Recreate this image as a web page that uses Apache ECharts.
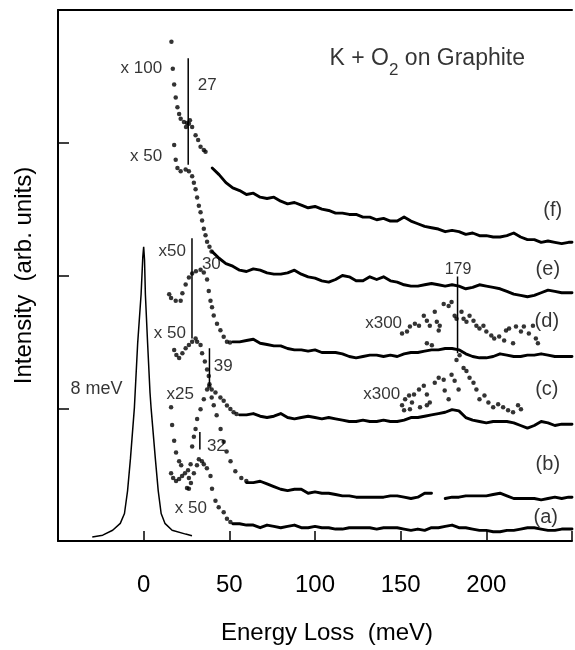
<!DOCTYPE html>
<html><head><meta charset="utf-8">
<script src="https://cdn.jsdelivr.net/npm/echarts@6/dist/echarts.min.js"></script>
<style>html,body{margin:0;padding:0;background:#fff}#c{width:575px;height:650px}</style>
</head><body><div id="c"></div>
<script>
const FONT = 'Liberation Sans, Arial, Helvetica, sans-serif';
const energyTicks = [0, 50, 100, 150, 200];
const energyGrid = [36,40,44,48,52,56,60,64,68,72,76,80,84,88,92,96,100,104,108,112,116,120,124,128,132,136,140,144,148,152,156,160,164,168,172,176,180,184,188,192,196,200,204,208,212,216,220,224,228,232,236,240,244,248,250];

const lineF = [null,2.81,2.76,2.70,2.66,2.64,2.61,2.62,2.59,2.58,2.59,2.56,2.54,2.55,2.53,2.51,2.52,2.50,2.49,2.47,2.47,2.46,2.46,2.44,2.44,2.42,2.43,2.41,2.41,2.44,2.41,2.39,2.37,2.36,2.35,2.33,2.34,2.33,2.31,2.32,2.30,2.30,2.29,2.29,2.30,2.32,2.29,2.27,2.27,2.25,2.26,2.25,2.24,2.25,2.25];
const lineE = [null,2.18,2.13,2.09,2.07,2.04,2.03,2.05,2.04,2.02,2.01,2.01,2.02,2.04,2.01,1.99,1.98,1.96,1.95,1.97,2.00,1.99,1.96,1.96,1.99,1.97,1.99,1.96,1.95,1.93,1.92,1.92,1.93,1.94,1.93,1.92,1.93,1.92,1.90,1.91,1.93,1.92,1.91,1.90,1.88,1.86,1.85,1.84,1.85,1.87,1.89,1.88,1.87,1.87,1.87];
const lineD = [null,null,null,null,1.50,1.50,1.51,1.52,1.49,1.48,1.47,1.47,1.45,1.44,1.44,1.43,1.44,1.42,1.42,1.42,1.41,1.39,1.38,1.39,1.40,1.40,1.39,1.40,1.39,1.41,1.42,1.42,1.43,1.44,1.44,1.45,1.45,1.44,1.41,1.39,1.38,1.38,1.39,1.41,1.40,1.39,1.39,1.40,1.40,1.41,1.40,1.39,1.39,1.39,1.39];
const lineC = [null,null,null,null,null,0.95,0.95,0.96,0.94,0.93,0.94,0.96,0.93,0.92,0.93,0.94,0.93,0.92,0.93,0.92,0.91,0.90,0.90,0.91,0.90,0.90,0.91,0.90,0.90,0.91,0.93,0.93,0.94,0.95,0.96,0.97,0.99,0.98,0.93,0.91,0.90,0.89,0.90,0.90,0.90,0.89,0.87,0.85,0.87,0.90,0.89,0.87,0.88,0.88,0.88];
const lineB = [null,null,null,null,null,null,0.44,0.44,0.45,0.43,0.41,0.39,0.38,0.39,0.39,0.36,0.37,0.36,0.36,0.35,0.34,0.34,0.33,0.33,0.33,0.33,0.33,0.34,0.34,0.33,0.32,0.33,0.36,0.36,null,0.32,0.33,0.33,0.34,0.34,0.34,0.34,0.35,0.36,0.34,0.32,0.32,0.32,0.32,0.31,0.32,0.33,0.32,0.33,0.33];
const lineA = [null,null,null,null,0.13,0.13,0.12,0.12,0.10,0.12,0.11,0.10,0.11,0.12,0.10,0.10,0.11,0.10,0.10,0.09,0.09,0.10,0.10,0.10,0.10,0.09,0.10,0.10,0.10,0.09,0.08,0.09,0.08,0.10,0.10,0.11,0.12,0.10,0.10,0.09,0.08,0.08,0.07,0.07,0.08,0.08,0.09,0.10,0.10,0.09,0.08,0.08,0.09,0.09,0.09];

const elastic = [[-30,0.03],[-23.9,0.044],[-18.1,0.081],[-13.65,0.133],[-11.2,0.207],[-9.4,0.378],[-7.7,0.622],[-5.4,1.007],[-3.5,1.489],[-1.5,1.859],[-0.5,2.141],[0,2.217],[0.5,2.119],[1.0,1.859],[2.3,1.489],[3.7,1.119],[4.3,1.007],[6.8,0.622],[8.5,0.378],[10.2,0.207],[12.4,0.133],[16.6,0.081],[24.5,0.052],[28.2,0.039]];

const dotsF100 = [[16.2,3.761],[17.0,3.558],[17.8,3.439],[18.7,3.341],[19.7,3.267],[20.7,3.217],[21.6,3.180],[23.5,3.156],[24.7,3.119],[25.3,3.148],[27.0,3.170],[26.4,3.143],[28.3,3.119],[30.3,3.057],[31.8,3.020],[33.2,2.970],[35.1,2.946],[36.1,2.933]];
const dotsF50 = [[17.8,2.983],[18.7,2.872],[19.7,2.810],[21.6,2.785],[24.5,2.798],[26.4,2.785],[28.3,2.748],[29.3,2.699],[30.3,2.650],[31.2,2.587],[32.2,2.526],[33.2,2.476],[34.1,2.415],[35.1,2.353],[36.1,2.304],[37.0,2.254],[38.4,2.217],[39.6,2.180]];
const dotsE50 = [[14.9,1.859],[16.0,1.830],[18.7,1.810],[21.6,1.810],[22.6,1.867],[24.5,1.933],[26.4,1.985],[28.3,2.015],[30.5,2.032],[33.2,2.044],[35.1,2.022],[37.0,1.970],[38.0,1.884],[39.0,1.810],[39.9,1.761],[40.9,1.699],[42.8,1.637],[44.8,1.587],[46.7,1.538],[48.6,1.501],[50.4,1.496]];
const dotsD50 = [[17.8,1.439],[19.1,1.402],[20.7,1.378],[22.6,1.415],[24.5,1.452],[26.4,1.476],[28.3,1.501],[30.3,1.526],[31.2,1.501],[33.2,1.476],[34.1,1.415],[35.7,1.353],[37.0,1.291],[38.0,1.242],[38.4,1.180],[39.7,1.141],[41.9,1.119],[44.8,1.081],[46.7,1.057],[48.6,1.020],[50.6,0.995],[52.5,0.970],[54.2,0.956]];
const dotsLow = [[16.0,1.007],[16.6,0.874],[17.8,0.756],[18.9,0.667],[20.7,0.600],[21.9,0.570],
  [16.0,0.511],[17.2,0.474],[18.9,0.452],[20.7,0.467],[22.4,0.489],[24.1,0.511],[25.9,0.533],
  [25.3,0.400],[26.4,0.474],[27.4,0.578],[28.3,0.711],[29.3,0.785],[30.3,0.844],[31.2,0.919],[33.2,0.993],[35.1,1.067],[37.0,1.141],[38.3,1.163],
  [39.7,1.081],[40.9,1.022],[42.6,0.948],[44.9,0.844],[46.7,0.748],[48.4,0.674],[50.7,0.600],[53.5,0.526],[57.0,0.474],[59.9,0.452],
  [26.4,0.393],[27.6,0.437],[29.3,0.511],[31.1,0.570],[32.2,0.615],
  [34.0,0.600],[35.1,0.578],[36.9,0.548],[39.0,0.489],[39.9,0.393],[41.9,0.304],[43.8,0.254],[46.7,0.217],[48.6,0.168],[50.6,0.143]];
const dotsX300d = [[150.8,1.563],[153.7,1.578],[155.4,1.615],[158.3,1.637],[160.7,1.622],[163.5,1.696],[165.3,1.659],[167.0,1.622],[169.9,1.726],[171.1,1.652],[172.2,1.585],[172.8,1.622],[175.1,1.785],[178.0,1.770],[179.7,1.800],[181.5,1.696],[182.6,1.674],[185.5,1.726],[186.7,1.674],[188.4,1.652],[190.2,1.696],[192.5,1.659],[194.2,1.622],[196.0,1.600],[198.3,1.622],[200.0,1.578],[202.9,1.548],[204.6,1.526],[207.5,1.541],[210.4,1.511],[211.5,1.585],[213.3,1.600],[215.6,1.489],[217.3,1.615],[220.2,1.578],[221.9,1.615],[224.8,1.563],[227.2,1.622],[228.9,1.526],[230.1,1.489],[165.3,1.489],[168.2,1.474]];
const dotsX300c = [[150.8,1.022],[152.0,0.985],[152.6,1.067],[154.9,1.096],[155.4,0.993],[156.6,1.044],[157.8,1.104],[160.7,1.141],[161.3,1.007],[163.5,1.170],[165.3,1.104],[165.3,1.022],[167.0,1.044],[169.9,1.193],[172.2,1.230],[175.1,1.215],[175.7,1.133],[178.0,1.067],[179.7,1.252],[181.5,1.207],[182.6,1.363],[183.8,1.141],[184.4,1.400],[186.7,1.304],[188.4,1.281],[190.2,1.230],[192.5,1.193],[194.2,1.141],[196.0,1.067],[198.9,1.096],[201.2,1.044],[204.0,1.007],[206.9,1.030],[209.8,1.007],[212.7,0.985],[215.6,0.970],[218.5,1.022],[220.2,0.993]];

const markerEnergy = [26.0, 28.2, 38.4, 32.8, 183.2];
const markerTop = [3.637, 2.281, 1.452, 0.822, 1.993];
const markerBottom = [2.835, 1.526, 1.170, 0.689, 1.415];

const annText = ['x 100','x 50','x50','x 50','x25','x 50','8 meV','27','30','39','32','179','x300','x300','(f)','(e)','(d)','(c)','(b)','(a)'];
const annEnergy = [10.8,10.8,24.7,24.7,29.3,36.9,-12.3,31.6,34.0,40.9,36.9,183.5,150.8,149.7,238.8,235.9,235.3,235.3,235.9,234.7];
const annIntensity = [3.563,2.896,2.185,1.563,1.104,0.244,1.148,3.430,2.081,1.319,0.711,2.044,1.637,1.104,2.489,2.044,1.652,1.141,0.578,0.178];
const annAlign = ['right','right','right','right','right','right','right','left','left','left','left','center','right','right','center','center','center','center','center','center'];
const annSize = [17,17,17,17,17,17,18,17,17,17,17,16,17,17,20,20,20,20,20,20];
const titleEnergy = 108.5, titleIntensity = 3.637;

const chart = echarts.init(document.getElementById('c'), null, {renderer:'canvas'});
const black = '#000';
function lineSeries(vals, w){
  return {type:'line', data: energyGrid.map((e,i)=>[e, vals[i]==null?'-':vals[i]]), symbol:'none', showSymbol:false,
    connectNulls:false, silent:true, animation:false, lineStyle:{color:black, width:w||2.9, join:'round', cap:'round'}, z:3};
}
function dotSeries(pts){
  return {type:'scatter', data:pts, symbol:'circle', symbolSize:4.5, itemStyle:{color:black}, silent:true, animation:false, z:4};
}
const series = [
  {type:'line', data: elastic, symbol:'none', smooth:false, silent:true, animation:false, lineStyle:{color:black, width:1.5}, z:3},
  lineSeries(lineF), lineSeries(lineE), lineSeries(lineD), lineSeries(lineC), lineSeries(lineB), lineSeries(lineA),
  dotSeries(dotsF100), dotSeries(dotsF50), dotSeries(dotsE50), dotSeries(dotsD50), dotSeries(dotsLow),
  dotSeries(dotsX300d), dotSeries(dotsX300c)
];
markerEnergy.forEach((e,i)=>{
  series.push({type:'line', data:[[e, markerTop[i]],[e, markerBottom[i]]], symbol:'none', silent:true, animation:false, lineStyle:{color:black, width:1.5}, z:3});
});
const annData = annText.map((t,i)=>({value:[annEnergy[i], annIntensity[i]], label:{formatter:t, align:annAlign[i], fontSize:annSize[i]}}));
annData.push({value:[titleEnergy, titleIntensity], label:{formatter:'{n|K + O}{s|2}{n| on Graphite}', align:'left',
  rich:{n:{fontSize:23, lineHeight:42, fontFamily:FONT, color:black}, s:{fontSize:17, lineHeight:17, verticalAlign:'bottom', fontFamily:FONT, color:black}}}});
series.push({type:'scatter', data:annData, symbolSize:0, silent:true, animation:false, z:6,
  label:{show:true, position:'inside', verticalAlign:'middle', color:black, fontFamily:FONT}});

chart.setOption({
  animation:false,
  backgroundColor:'#fff',
  grid:{left:58, top:10, width:518, height:541, containLabel:false},
  xAxis:[{type:'value', min:-50, max:250, interval:50, position:'bottom',
    axisLine:{onZero:false, lineStyle:{color:black, width:2}},
    axisTick:{inside:true, length:10, lineStyle:{color:black, width:1.5}},
    axisLabel:{margin:32, fontSize:24, color:black, fontFamily:FONT, formatter:v=>energyTicks.includes(v)?String(v):''},
    splitLine:{show:false},
    name:'Energy Loss  (meV)', nameLocation:'middle', nameGap:80,
    nameTextStyle:{fontSize:24, color:black, fontFamily:FONT, padding:[0,0,0,24]}},
   {type:'value', min:-50, max:250, position:'top', axisLine:{show:true, onZero:false, lineStyle:{color:black, width:2}},
    axisTick:{show:false}, axisLabel:{show:false}, splitLine:{show:false}}],
  yAxis:{type:'value', min:0, max:4, interval:1,
    axisLine:{show:true, onZero:false, lineStyle:{color:black, width:2}},
    axisTick:{show:true, inside:true, length:11, lineStyle:{color:black, width:1.5}},
    axisLabel:{show:false}, splitLine:{show:false},
    name:'Intensity  (arb. units)', nameLocation:'middle', nameGap:22, nameRotate:90,
    nameTextStyle:{fontSize:24, color:black, fontFamily:FONT}},
  series
});
</script></body></html>
